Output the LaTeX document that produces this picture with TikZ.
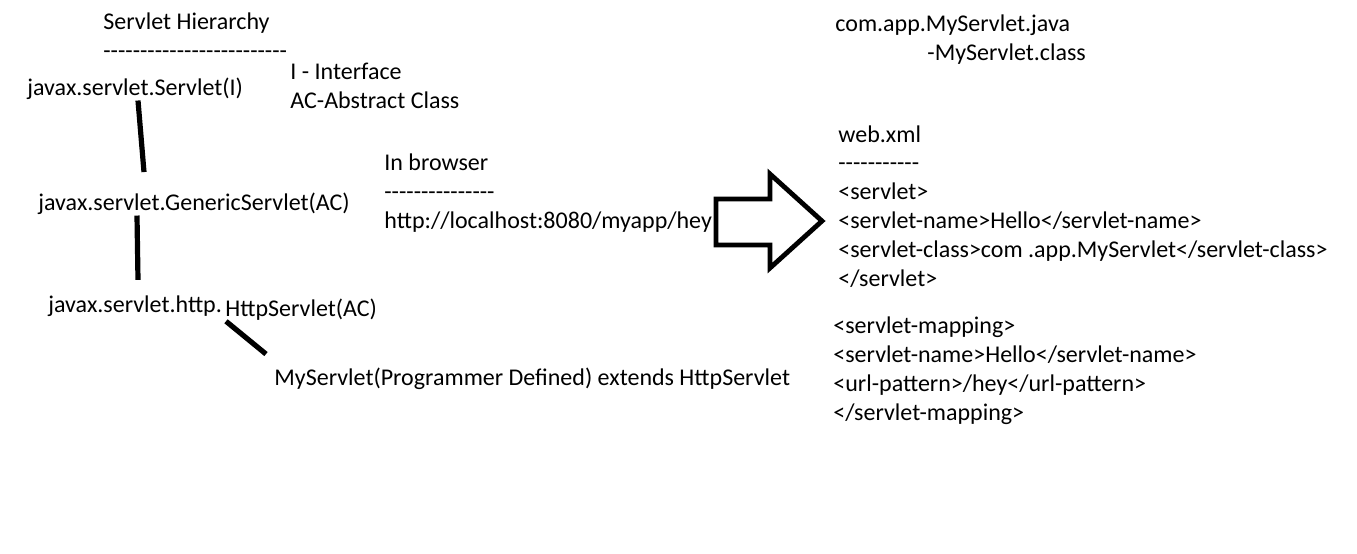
\documentclass[tikz,border=0pt]{standalone}
\usepackage{fontspec}
\setmainfont{Carlito}
\usetikzlibrary{calc}
\tikzset{
    txt/.style={anchor=base west, inner sep=0pt, align=left, font=\fontsize{12pt}{14.4pt}\selectfont},
    link/.style={line width=2.6pt},
    fatarrow/.style={line width=2.4pt, line join=miter}
}
\newcommand{\dashrow}[1]{\foreach \k in {1,...,#1}{-}}

\begin{document}
\begin{tikzpicture}[x=0.5pt,y=-0.5pt]
\useasboundingbox (0,0) rectangle (1357,553);

% hierarchy
\node[txt] (title) at (103,58) {Servlet Hierarchy\\\dashrow{25}};
\node[txt] (servlet) at (27,95) {javax.servlet.Servlet(I)};
\node[txt] (legend) at (290,108) {I - Interface\\AC-Abstract Class};
\node[txt] (generic) at (38,210) {javax.servlet.GenericServlet(AC)};
\node[txt] (httppkg) at (48,312) {javax.servlet.http.};
\node[txt] (httpservlet) at (225,316) {HttpServlet(AC)};
\node[txt] (myservlet) at (274,385) {MyServlet(Programmer Defined) extends HttpServlet};

\draw[link] ($(servlet.south west)+(111,1)$) -- ($(generic.north west)+(106,-20)$);
\draw[link] ($(generic.south west)+(99,1)$) -- ($(httppkg.north west)+(90,-15)$);
\draw[link] ($(httpservlet.south west)+(1,1)$) -- ($(myservlet.north west)+(-8,-13)$);

% request
\node[txt] (browser) at (384,228) {In browser\\\dashrow{15}\\http://localhost:8080/myapp/hey};

\draw[fatarrow] (716,199) -- (770,199) -- (770,174) -- (822,221) -- (770,268) -- (770,245) -- (716,245) -- cycle;

% deployment
\node[txt] (source) at (835,31) {com.app.MyServlet.java};
\node[txt] (compiled) at (927,60) {-MyServlet.class};
\node[txt] (webxml) at (838,286) {web.xml\\\dashrow{11}\\<servlet>\\<servlet-name>Hello</servlet-name>\\<servlet-class>com .app.MyServlet</servlet-class>\\</servlet>};
\node[txt] (mapping) at (833,420) {<servlet-mapping>\\<servlet-name>Hello</servlet-name>\\<url-pattern>/hey</url-pattern>\\</servlet-mapping>};

\end{tikzpicture}
\end{document}
